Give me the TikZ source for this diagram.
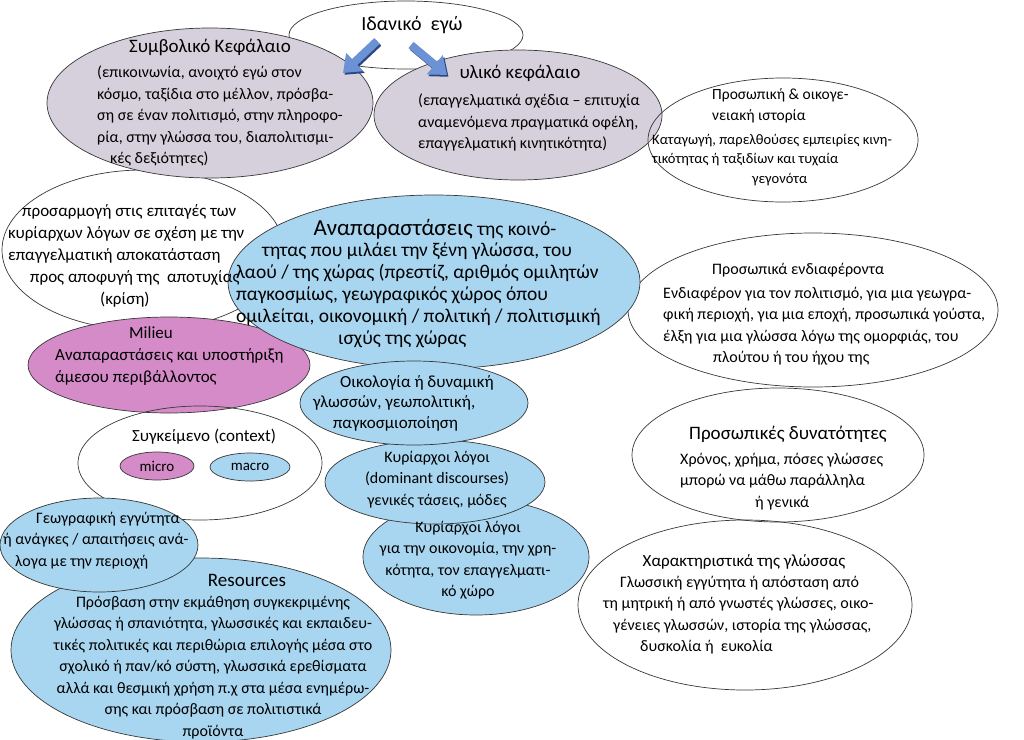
\documentclass[tikz,border=0pt]{standalone}
\usepackage{fontspec}
\setmainfont{Carlito}
\usetikzlibrary{shapes.geometric, arrows.meta}
\definecolor{lav}{RGB}{214,208,220}
\definecolor{sky}{RGB}{168,214,240}
\definecolor{mag}{RGB}{213,139,200}
\definecolor{arrblue}{RGB}{108,146,214}
\definecolor{arrdark}{RGB}{45,70,130}
\definecolor{edge}{RGB}{55,55,55}
\begin{document}
\begin{tikzpicture}[x=1pt,y=-1pt,
  ell/.style={ellipse, draw=edge, line width=0.7pt, inner sep=0pt},
  body/.style={inner sep=0pt, anchor=north west, align=left, font=\fontsize{16}{21.5}\selectfont},
  ctext/.style={inner sep=0pt, anchor=north, align=center, font=\fontsize{16}{21.5}\selectfont},
  ttl/.style={inner sep=0pt, font=\fontsize{19}{22}\selectfont},
  bigarrow/.style={line width=8pt, arrblue, -{Triangle[width=24pt,length=16pt]}},
  bigshadow/.style={line width=8pt, arrdark, -{Triangle[width=24pt,length=16pt]}}
]
\useasboundingbox (0,0) rectangle (1024,739);

% ellipses, back to front
\node[ell, minimum width=234pt, minimum height=68pt] (ideal) at (406,35) {};
\node[ell, minimum width=282pt, minimum height=160pt] (adapt) at (143,250) {};
\node[ell, fill=lav, minimum width=326pt, minimum height=150pt] (symb) at (210,103) {};
\node[ell, fill=lav, minimum width=288pt, minimum height=130pt] (mat) at (518,115) {};
\node[ell, minimum width=270pt, minimum height=124pt] (hist) at (783,140) {};
\node[ell, minimum width=370pt, minimum height=154pt] (inter) at (813,310) {};
\node[ell, minimum width=292pt, minimum height=134pt] (abil) at (778,455) {};
\node[ell, minimum width=334pt, minimum height=170pt] (charac) at (745,605) {};
\node[ell, fill=mag, minimum width=282pt, minimum height=96pt] (milieu) at (169,365) {};
\node[ell, minimum width=244pt, minimum height=114pt] (ctx) at (200,463) {};
\node[ell, fill=mag, minimum width=74pt, minimum height=28pt, font=\fontsize{15}{18}\selectfont] (micro) at (157,466) {micro};
\node[ell, fill=sky, minimum width=80pt, minimum height=28pt, font=\fontsize{15}{18}\selectfont] (macro) at (250,467) {macro};
\node[ell, fill=sky, minimum width=380pt, minimum height=184pt] (res) at (201,650) {};
\node[ell, fill=sky, minimum width=198pt, minimum height=94pt] (geo) at (99,545) {};
\node[ell, fill=sky, minimum width=226pt, minimum height=116pt] (econ) at (476,557) {};
\node[ell, fill=sky, minimum width=220pt, minimum height=84pt] (dom) at (435,482) {};
\node[ell, fill=sky, minimum width=412pt, minimum height=174pt] (repr) at (434,282) {};
\node[ell, fill=sky, minimum width=228pt, minimum height=84pt] (eco) at (414,403) {};

% texts
\node[ttl, font=\fontsize{20}{24}\selectfont] (tIdeal) at (412,25) {Ιδανικό\ \ εγώ};
\node[ttl] (tSymbT) at (210,47) {Συμβολικό Κεφάλαιο};
\node[body] (tSymbB) at (97,66) {(επικοινωνία, ανοιχτό εγώ στον\\ κόσμο, ταξίδια στο μέλλον, πρόσβα-\\ ση σε έναν πολιτισμό, στην πληροφο-\\ ρία, στην γλώσσα του, διαπολιτισμι-\\ \hspace*{13pt}κές δεξιότητες)};
\node[ttl] (tMatT) at (520,73) {υλικό κεφάλαιο};
\node[body] (tMatB) at (418,94) {(επαγγελματικά σχέδια – επιτυχία\\ αναμενόμενα πραγματικά οφέλη,\\ επαγγελματική κινητικότητα)};
\node[body, font=\fontsize{15.5}{21}\selectfont] (tHistT) at (712,88) {Προσωπική \& οικογε-\\ νειακή ιστορία};
\node[body, font=\fontsize{14.5}{19.5}\selectfont] (tHistB) at (652,134) {Καταγωγή, παρελθούσες εμπειρίες κινη-\\ τικότητας ή ταξιδίων και τυχαία\\ \hspace*{100pt}γεγονότα};
\node[body, font=\fontsize{17}{22}\selectfont] (tAdapt) at (8,204) {\hspace*{14pt}προσαρμογή στις επιταγές των\\ κυρίαρχων λόγων σε σχέση με την\\ επαγγελματική αποκατάσταση\\ \hspace*{22pt}προς αποφυγή της\ \ αποτυχίας\\ \hspace*{92pt}(κρίση)};
\node[anchor=base, inner sep=0pt] (tReprT) at (435,235) {{\fontsize{23}{26}\selectfont Αναπαραστάσεις}\ \ {\fontsize{19.5}{22}\selectfont της κοινό-}};
\node[body, font=\fontsize{19.5}{22}\selectfont] (tReprB) at (236,243) {\hspace*{26pt}τητας που μιλάει την ξένη γλώσσα, του\\ λαού / της χώρας (πρεστίζ, αριθμός ομιλητών\\ παγκοσμίως, γεωγραφικός χώρος όπου\\ ομιλείται, οικονομική / πολιτική / πολιτισμική\\ \hspace*{102pt}ισχύς της χώρας};
\node[body, font=\fontsize{17}{22}\selectfont] (tMilieu) at (55,326) {\hspace*{74pt}Milieu\\ Αναπαραστάσεις και υποστήριξη\\ άμεσου περιβάλλοντος};
\node[body] (tInterT) at (712,263) {Προσωπικά ενδιαφέροντα};
\node[body] (tInterB) at (663,287) {Ενδιαφέρον για τον πολιτισμό, για μια γεωγρα-\\ φική περιοχή, για μια εποχή, προσωπικά γούστα,\\ έλξη για μια γλώσσα λόγω της ομορφιάς, του\\ \hspace*{50pt}πλούτου ή του ήχου της};
\node[body, font=\fontsize{17}{20.5}\selectfont] (tEco) at (313,375) {\hspace*{27pt}Οικολογία ή δυναμική\\ γλωσσών, γεωπολιτική,\\ \hspace*{20pt}παγκοσμιοποίηση};
\node[ttl, font=\fontsize{17}{20}\selectfont] (tCtx) at (204,437) {Συγκείμενο (context)};
\node[ctext] (tDom) at (437,451) {Κυρίαρχοι λόγοι\\ (dominant discourses)\\ γενικές τάσεις, μόδες};
\node[ctext] (tEcon) at (468,521) {Κυρίαρχοι λόγοι\\ για την οικονομία, την χρη-\\ κότητα, τον επαγγελματι-\\ κό χώρο};
\node[ttl] (tAbilT) at (788,434) {Προσωπικές δυνατότητες};
\node[body] (tAbilB) at (680,453) {Χρόνος, χρήμα, πόσες γλώσσες\\ μπορώ να μάθω παράλληλα\\ \hspace*{75pt}ή γενικά};
\node[body] (tGeo) at (3,512) {\hspace*{33pt}Γεωγραφική εγγύτητα\\ ή ανάγκες / απαιτήσεις ανά-\\ \hspace*{12pt}λογα με την περιοχή};
\node[ttl] (tResT) at (247,580) {Resources};
\node[ctext] (tResB) at (213,596) {Πρόσβαση στην εκμάθηση συγκεκριμένης\\ γλώσσας ή σπανιότητα, γλωσσικές και εκπαιδευ-\\ τικές πολιτικές και περιθώρια επιλογής μέσα στο\\ σχολικό ή παν/κό σύστη, γλωσσικά ερεθίσματα\\ αλλά και θεσμική χρήση π.χ στα μέσα ενημέρω-\\ σης και πρόσβαση σε πολιτιστικά\\ προϊόντα};
\node[ttl, font=\fontsize{17}{20}\selectfont] (tCharT) at (744,562) {Χαρακτηριστικά της γλώσσας};
\node[body] (tCharB) at (603,576) {\hspace*{17pt}Γλωσσική εγγύτητα ή απόσταση από\\ τη μητρική ή από γνωστές γλώσσες, οικο-\\ \hspace*{10pt}γένειες γλωσσών, ιστορία της γλώσσας,\\ \hspace*{37pt}δυσκολία ή\ \ ευκολία};

% block arrows from the ideal self
\coordinate (a1s) at (377,41);
\coordinate (a1e) at (343,73);
\coordinate (a2s) at (411,45);
\coordinate (a2e) at (447,75);
\draw[bigshadow] ([shift={(1.5,1.8)}]a1s) -- ([shift={(1.5,1.8)}]a1e);
\draw[bigshadow] ([shift={(1.5,1.8)}]a2s) -- ([shift={(1.5,1.8)}]a2e);
\draw[bigarrow] (a1s) -- (a1e);
\draw[bigarrow] (a2s) -- (a2e);
\end{tikzpicture}
\end{document}
